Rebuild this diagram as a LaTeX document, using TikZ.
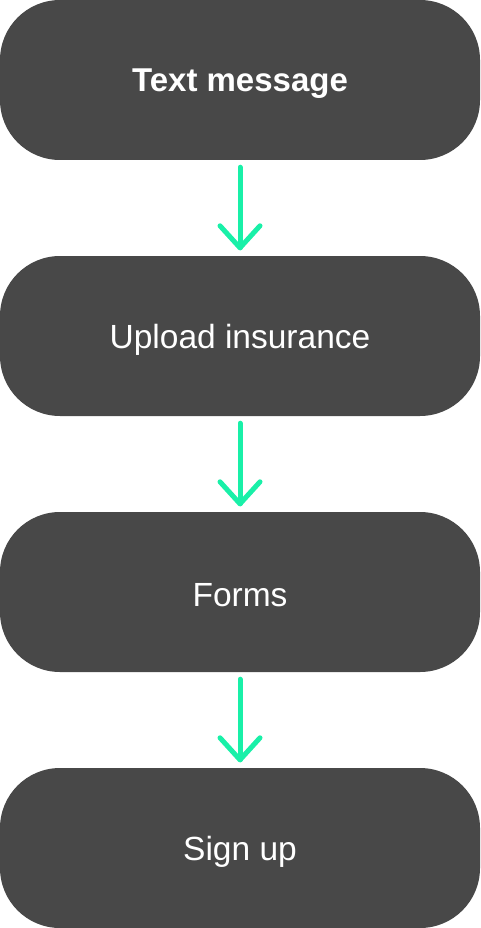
\documentclass[tikz,border=0pt]{standalone}
\usepackage{fontspec}
\setmainfont{Liberation Sans}
\usetikzlibrary{positioning}
\definecolor{boxgray}{HTML}{484848}
\definecolor{arrowgreen}{HTML}{19F0A8}
\newcommand\lowtxt[1]{\raisebox{-3.5pt}[\height][\depth]{#1}}
\begin{document}
\begin{tikzpicture}[x=1pt,y=-1pt,
  stepbox/.style={fill=boxgray, rounded corners=60pt, minimum width=480pt, minimum height=160pt, inner sep=0pt, text=white, font=\fontsize{33.5}{38}\selectfont},
  flow/.style={draw=arrowgreen, line width=5pt, line cap=round, line join=round}]
\useasboundingbox (0,0) rectangle (480,928);
\node[stepbox, font=\fontsize{33}{38}\selectfont\bfseries] (a) at (240,80) {\lowtxt{Text message}};
\node[stepbox] (b) at (240,336) {\lowtxt{Upload insurance}};
\node[stepbox] (c) at (240,592) {\lowtxt{Forms}};
\node[stepbox] (d) at (240,848) {\lowtxt{Sign up}};
\foreach \s/\t in {a/b,b/c,c/d}{
  \coordinate (\s top) at ([yshift=-7pt]\s.south);
  \coordinate (\s tip) at ([yshift=8pt]\t.north);
  \draw[flow] (\s top) -- (\s tip);
  \draw[flow] ([xshift=-20pt,yshift=22pt]\s tip) -- (\s tip) -- ([xshift=20pt,yshift=22pt]\s tip);
}
\end{tikzpicture}
\end{document}
